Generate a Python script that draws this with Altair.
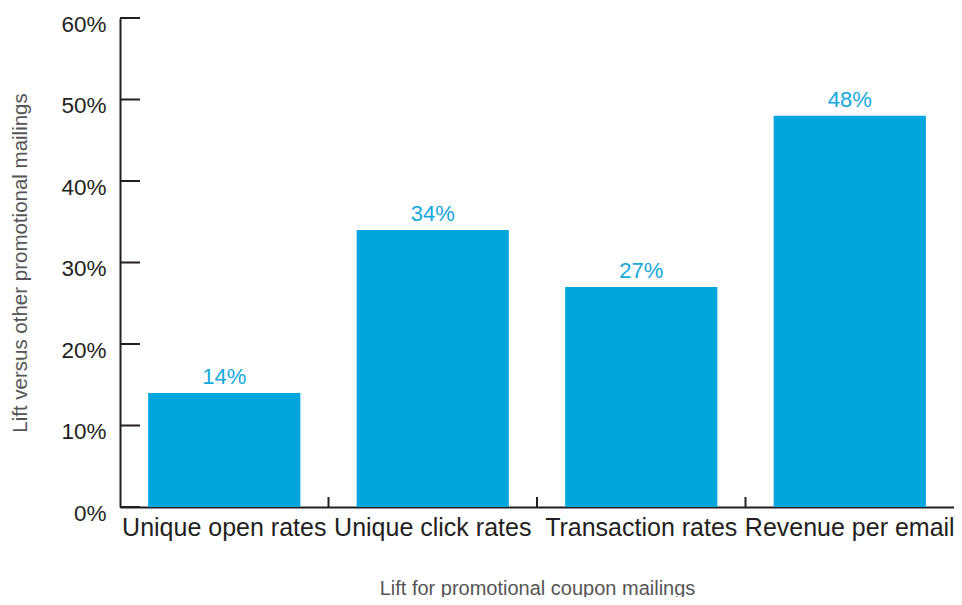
import altair as alt
import pandas as pd

categories = ["Unique open rates", "Unique click rates", "Transaction rates", "Revenue per email"]
lifts = [0.14, 0.34, 0.27, 0.48]
y_ticks = [0, 0.1, 0.2, 0.3, 0.4, 0.5, 0.6]
boundary_cats = categories[1:]

df = pd.DataFrame({"cat": categories, "lift": lifts})
tick_df = pd.DataFrame({"cat": categories[0], "lift": y_ticks})
bnd_df = pd.DataFrame({"cat": boundary_cats})

BLUE = "#00A6DC"
LABEL_BLUE = "#14A8DE"
INK = "#231F20"
FONT = "Liberation Sans"
W, H = 834, 489
P_IN = 0.27
STEP = W / 4.0

xscale = alt.Scale(domain=categories, paddingInner=P_IN, paddingOuter=P_IN / 2)
yscale = alt.Scale(domain=[0, 0.6], nice=False, zero=True)

x_axis = alt.Axis(
    title="Lift for promotional coupon mailings",
    labelAngle=0, ticks=False, domain=True, domainColor=INK, domainWidth=2,
    labelFontSize=25, labelColor=INK, labelFont=FONT, labelPadding=8, labelLimit=0,
    labelOverlap=False,
    titleFont=FONT, titleFontSize=20, titleFontWeight="normal", titleColor="#555555",
    titlePadding=38, grid=False,
)
y_axis = alt.Axis(
    title="Lift versus other promotional mailings",
    values=y_ticks, format=".0%", ticks=False, domain=True, domainColor=INK, domainWidth=2,
    labelFontSize=22.5, labelColor=INK, labelFont=FONT, labelPadding=14, labelOffset=6,
    titleFont=FONT, titleFontSize=20.5, titleFontWeight="normal", titleColor="#555555",
    titlePadding=30, grid=False,
)

bars = alt.Chart(df).mark_bar(color=BLUE).encode(
    x=alt.X("cat:N", scale=xscale, sort=categories, axis=x_axis),
    y=alt.Y("lift:Q", scale=yscale, axis=y_axis),
)

values = alt.Chart(df).mark_text(
    baseline="bottom", dy=-4, fontSize=22, font=FONT, color=LABEL_BLUE
).encode(
    x=alt.X("cat:N", scale=xscale, sort=categories, axis=x_axis),
    y=alt.Y("lift:Q", scale=yscale, axis=y_axis),
    text=alt.Text("lift:Q", format=".0%"),
)

yticks = alt.Chart(tick_df).mark_rule(color=INK, strokeWidth=2).encode(
    y=alt.Y("lift:Q", scale=yscale, axis=y_axis),
    x=alt.value(0),
    x2=alt.value(20),
)

xticks = alt.Chart(bnd_df).mark_rule(
    color=INK, strokeWidth=2, xOffset=-STEP * P_IN / 2
).encode(
    x=alt.X("cat:N", scale=xscale, sort=categories, bandPosition=0, axis=x_axis),
    y=alt.value(H),
    y2=alt.value(H - 10),
)

chart = alt.layer(bars, values, yticks, xticks).properties(
    width=W,
    height=H,
    autosize=alt.AutoSizeParams(type="none"),
    padding={"left": 112, "top": 10, "right": 0, "bottom": 90},
    background="white",
).configure_view(stroke=None)

chart.save("out.html", embed_options={"renderer": "svg", "actions": False})
